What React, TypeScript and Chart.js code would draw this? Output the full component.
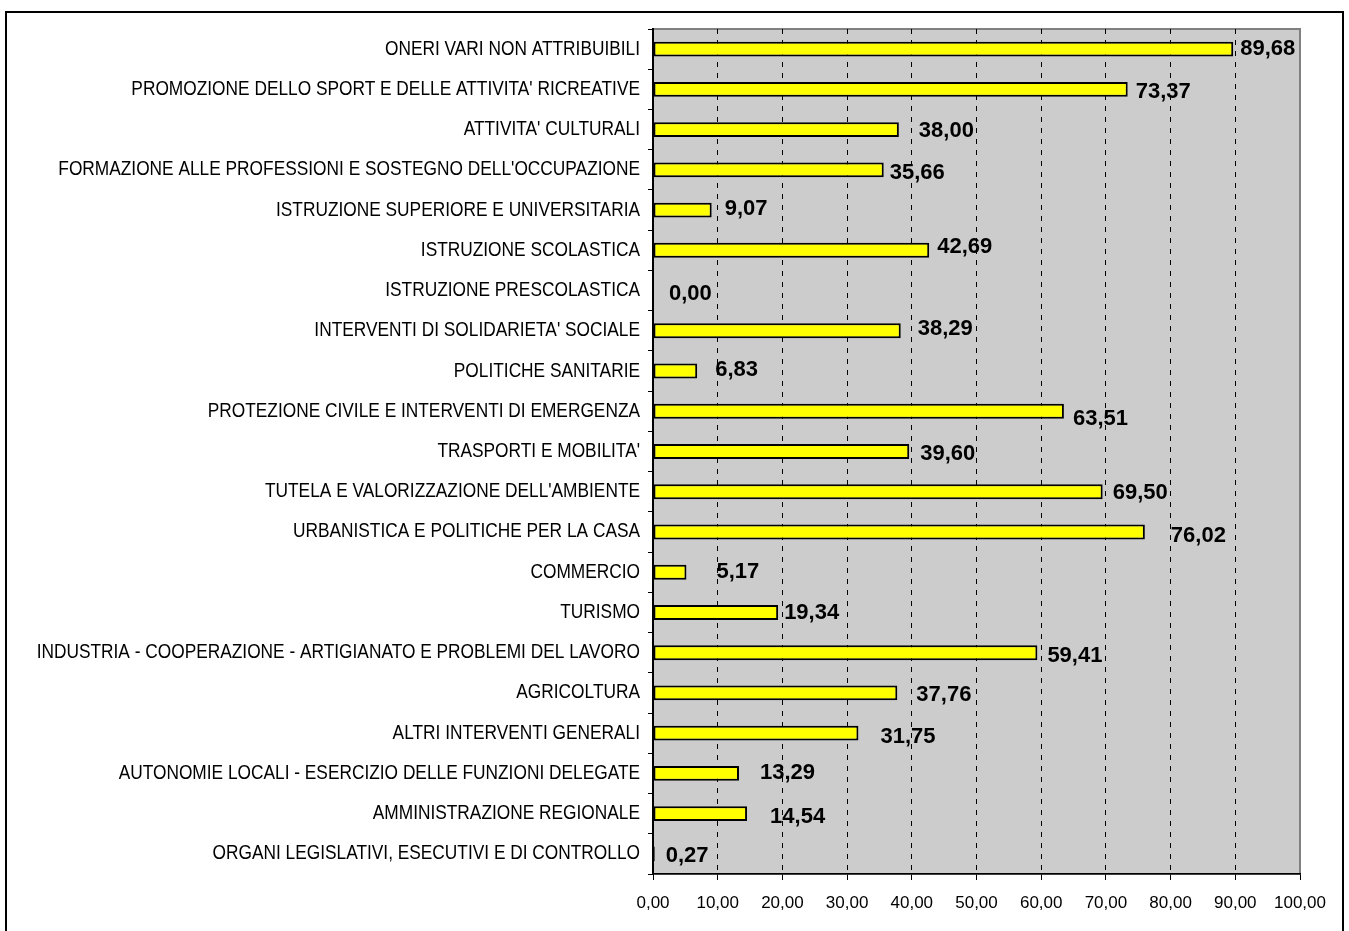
import React, { useEffect, useRef } from "react";
import { Chart, registerables } from "chart.js";

Chart.register(...registerables);

const categories: string[] = [
  "ONERI VARI NON ATTRIBUIBILI",
  "PROMOZIONE DELLO SPORT E DELLE ATTIVITA' RICREATIVE",
  "ATTIVITA' CULTURALI",
  "FORMAZIONE ALLE PROFESSIONI E SOSTEGNO DELL'OCCUPAZIONE",
  "ISTRUZIONE SUPERIORE E UNIVERSITARIA",
  "ISTRUZIONE SCOLASTICA",
  "ISTRUZIONE PRESCOLASTICA",
  "INTERVENTI DI SOLIDARIETA' SOCIALE",
  "POLITICHE SANITARIE",
  "PROTEZIONE CIVILE E INTERVENTI DI EMERGENZA",
  "TRASPORTI E MOBILITA'",
  "TUTELA E VALORIZZAZIONE DELL'AMBIENTE",
  "URBANISTICA E POLITICHE PER LA CASA",
  "COMMERCIO",
  "TURISMO",
  "INDUSTRIA - COOPERAZIONE - ARTIGIANATO E PROBLEMI DEL LAVORO",
  "AGRICOLTURA",
  "ALTRI INTERVENTI GENERALI",
  "AUTONOMIE LOCALI - ESERCIZIO DELLE FUNZIONI DELEGATE",
  "AMMINISTRAZIONE REGIONALE",
  "ORGANI LEGISLATIVI, ESECUTIVI E DI CONTROLLO",
];

const values: number[] = [
  89.68, 73.37, 38.0, 35.66, 9.07, 42.69, 0.0, 38.29, 6.83, 63.51, 39.6,
  69.5, 76.02, 5.17, 19.34, 59.41, 37.76, 31.75, 13.29, 14.54, 0.27,
];

// manual nudges of the value labels (pixels: right, down), as in the original
const labelNudgeX: number[] = [7, 8, 20, 6, 13, 8, 16, 17, 18, 9, 11, 10, 26, 30, 6, 10, 19, 22, 21, 23, 11];
const labelNudgeY: number[] = [0, 3, 1, 3, -1, -3, 3, -2, -1, 8, 2, 1, 4, 0, 0, 3, 2, 4, 0, 3, 2];

const xMin = 0;
const xMax = 100;
const xStep = 10;

const fmt = (v: number) => v.toFixed(2).replace(".", ",");

const plotBgPlugin = {
  id: "plotBg",
  beforeDraw(chart: any) {
    const { ctx, chartArea } = chart;
    const { left, top, right, bottom } = chartArea;
    ctx.save();
    ctx.fillStyle = "#cccccc";
    ctx.fillRect(left, top, right - left, bottom - top);
    ctx.strokeStyle = "#808080";
    ctx.lineWidth = 2;
    ctx.strokeRect(left, top, right - left, bottom - top);
    ctx.restore();
  },
};

// category labels, drawn in a condensed Arial-like face as in the original
const categoryLabelPlugin = {
  id: "categoryLabels",
  afterDraw(chart: any) {
    const { ctx } = chart;
    const yScale = chart.scales.y;
    const xRight = yScale.right - 13;
    ctx.save();
    ctx.font = "20px 'Liberation Sans', Arial, sans-serif";
    ctx.fillStyle = "#000";
    ctx.textAlign = "right";
    ctx.textBaseline = "middle";
    categories.forEach((c, i) => {
      const py = yScale.getPixelForValue(i);
      ctx.save();
      ctx.translate(xRight, py);
      ctx.scale(0.865, 1);
      ctx.fillText(c, 0, 0);
      ctx.restore();
    });
    ctx.restore();
  },
};

const valueLabelPlugin = {
  id: "valueLabels",
  afterDatasetsDraw(chart: any) {
    const { ctx } = chart;
    const meta = chart.getDatasetMeta(0);
    ctx.save();
    ctx.font = "bold 22px 'Liberation Sans', Arial, sans-serif";
    ctx.fillStyle = "#000";
    ctx.textAlign = "left";
    ctx.textBaseline = "middle";
    meta.data.forEach((bar: any, i: number) => {
      const v = values[i];
      ctx.fillText(fmt(v), bar.x + (labelNudgeX[i] || 0), bar.y + (labelNudgeY[i] || 0));
    });
    ctx.restore();
  },
};

export default function App() {
  const canvasRef = useRef<HTMLCanvasElement | null>(null);

  useEffect(() => {
    if (!canvasRef.current) return;
    const chart = new Chart(canvasRef.current, {
      type: "bar",
      data: {
        labels: categories,
        datasets: [
          {
            data: values,
            backgroundColor: "#ffff00",
            borderColor: "#000000",
            borderWidth: 2,
            borderSkipped: false,
            barPercentage: 0.37,
            categoryPercentage: 1,
          },
        ],
      },
      options: {
        indexAxis: "y",
        responsive: false,
        animation: false,
        layout: { padding: { top: 29, right: 49, left: 0, bottom: 0 } },
        plugins: {
          legend: { display: false },
          tooltip: { enabled: false },
        },
        scales: {
          x: {
            type: "linear",
            min: xMin,
            max: xMax,
            afterFit: (scale: any) => {
              scale.height = 57;
            },
            ticks: {
              stepSize: xStep,
              color: "#000",
              padding: 13,
              font: { family: "'Liberation Sans', Arial, sans-serif", size: 17 },
              callback: (v: any) => fmt(Number(v)),
            },
            grid: {
              color: (c: any) =>
                c.tick && (c.tick.value === xMin || c.tick.value === xMax) ? "rgba(0,0,0,0)" : "#000",
              lineWidth: 1,
              tickColor: "#000",
              tickLength: 6,
              tickWidth: 1,
            },
            border: { display: true, color: "#000", width: 1.5, dash: [5, 6] },
          },
          y: {
            type: "category",
            afterFit: (scale: any) => {
              scale.width = 653;
            },
            ticks: {
              display: false,
              autoSkip: false,
            },
            grid: {
              display: true,
              drawOnChartArea: false,
              drawTicks: true,
              tickLength: 5,
              color: "#000",
              tickColor: "#000",
              offset: true,
            },
            border: { display: true, color: "#000", width: 2 },
          },
        },
      },
      plugins: [plotBgPlugin, categoryLabelPlugin, valueLabelPlugin],
    });
    return () => chart.destroy();
  }, []);

  return (
    <div style={{ position: "absolute", left: 0, top: 0, width: 1349, height: 931, overflow: "hidden", background: "#fff" }}>
      <div
        style={{
          position: "absolute",
          left: 5,
          top: 11,
          width: 1339,
          height: 960,
          border: "2px solid #000",
          boxSizing: "border-box",
        }}
      />
      <canvas
        ref={canvasRef}
        width={1349}
        height={931}
        style={{ position: "absolute", left: 0, top: 0, display: "block" }}
      />
    </div>
  );
}
